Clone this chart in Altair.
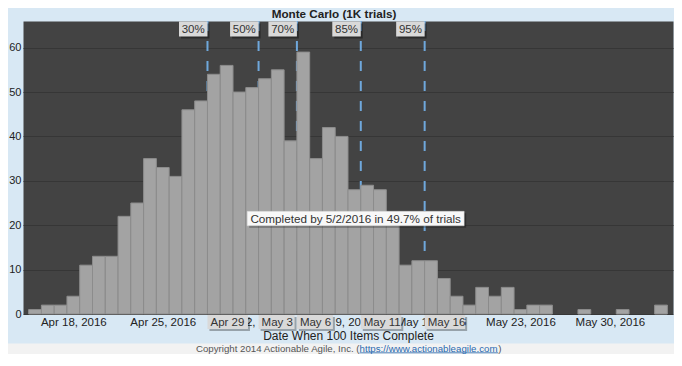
import altair as alt
import pandas as pd
from datetime import date

# ---------------- data ----------------
start_date = "2016-04-15"
counts = [1, 2, 2, 4, 11, 13, 13, 22, 25, 35, 33, 31, 46, 48, 54, 56, 50, 51, 53, 55,
          39, 59, 35, 42, 40, 28, 29, 28, 21, 11, 12, 12, 8, 4, 2, 6, 4, 6, 1, 2,
          2, 0, 0, 1, 0, 0, 1, 0, 0, 2]
pct_labels = ["30%", "50%", "70%", "85%", "95%"]
pct_dates = ["2016-04-29", "2016-05-03", "2016-05-06", "2016-05-11", "2016-05-16"]
pct_date_labels = ["Apr 29", "May 3", "May 6", "May 11", "May 16"]
tick_dates = ["2016-04-18", "2016-04-25", "2016-05-02", "2016-05-09",
              "2016-05-16", "2016-05-23", "2016-05-30"]
y_ticks = [0, 10, 20, 30, 40, 50, 60]
annotation_text = "Completed by 5/2/2016 in 49.7% of trials"
annotation_x = 25.6
annotation_y = 21.5
title_text = "Monte Carlo (1K trials)"
x_title = "Date When 100 Items Complete"
copyright_prefix = "Copyright 2014 Actionable Agile, Inc. ("
copyright_link = "https://www.actionableagile.com"
copyright_suffix = ")"

# ---------------- derived tables ----------------
d0 = date.fromisoformat(start_date)


def day(s):
    return (date.fromisoformat(s) - d0).days


bars = pd.DataFrame({"day": list(range(len(counts))), "count": counts})
lines = pd.DataFrame({"pos": [day(d) for d in pct_dates], "pct": pct_labels, "lab": pct_date_labels})
tick_vals = [day(d) + 0.5 for d in tick_dates]
ann = pd.DataFrame({"x": [annotation_x], "y": [annotation_y], "t": [annotation_text]})
one = pd.DataFrame({"k": [0]})

# ---------------- layout / style ----------------
PLOT_W, PLOT_H = 650, 293
PAD = {"left": 15, "top": 13, "right": 1, "bottom": 40}
X_DOMAIN = [-0.44, 50.44]
Y_DOMAIN = [0, 66]
PPU_X = PLOT_W / (X_DOMAIN[1] - X_DOMAIN[0])
FONT = "Liberation Sans"
BG = "#d8e8f4"

xscale = alt.Scale(domain=X_DOMAIN, nice=False, zero=False)
yscale = alt.Scale(domain=Y_DOMAIN, nice=False, zero=True)

label_expr = (f"timeFormat(datetime({d0.year}, {d0.month - 1}, {d0.day} + floor(datum.value)), "
              f"'%b %-d, %Y')")

xaxis = alt.Axis(values=tick_vals, labelExpr=label_expr, grid=False, ticks=False, domain=False,
                 labelFont=FONT, labelFontSize=11.5, labelColor="#222", labelPadding=2,
                 labelFlush=False, labelOverlap=False, title=x_title, titleFont=FONT,
                 titleFontSize=12, titleFontWeight="normal", titleColor="#222", titlePadding=3)
yaxis = alt.Axis(values=y_ticks, grid=True, gridColor="#363636", gridWidth=1, ticks=False,
                 domain=False, labelFont=FONT, labelFontSize=11, labelColor="#222",
                 labelPadding=2, title="")


def X(field):
    return alt.X(field, type="quantitative", scale=xscale, axis=xaxis)


def Y(field):
    return alt.Y(field, type="quantitative", scale=yscale, axis=yaxis)


# percentile dashed lines (behind bars)
rule_layer = alt.Chart(lines).mark_rule(color="#6fa8dc", strokeWidth=2, strokeDash=[10, 10]).encode(
    x=X("pos"), y=alt.value(0), y2=alt.value(PLOT_H))

# histogram bars
bar_layer = alt.Chart(bars).transform_filter("datum.count > 0").transform_calculate(
    day_end="datum.day + 1").mark_rect(fill="#a3a3a3", stroke="#8c8c8c", strokeWidth=1).encode(
    x=X("day"), x2="day_end:Q", y=Y("count"), y2=alt.datum(0))

# top percentile label boxes
top_shadow = alt.Chart(lines).mark_rect(color="black", opacity=0.35, xOffset=-26.5, x2Offset=2).encode(
    x=X("pos"), x2="pos:Q", y=alt.value(2.5), y2=alt.value(17.5))
top_box = alt.Chart(lines).mark_rect(color="#d9d9d9", xOffset=-28.5, x2Offset=0).encode(
    x=X("pos"), x2="pos:Q", y=alt.value(0.5), y2=alt.value(15.5))
top_text = alt.Chart(lines).mark_text(font=FONT, fontSize=11.5, color="#333", align="center",
                                      baseline="middle", xOffset=-14.25).encode(
    x=X("pos"), y=alt.value(8.5), text="pct:N")

# bottom date label boxes
box_end_expr = f"datum.pos + (4.5 * length(datum.lab) + 13.5) / {PPU_X}"
bot_shadow = alt.Chart(lines).transform_calculate(box_end=box_end_expr).mark_rect(
    color="black", opacity=0.3, xOffset=2, x2Offset=2).encode(
    x=X("pos"), x2="box_end:Q", y=alt.value(PLOT_H + 3), y2=alt.value(PLOT_H + 17))
bot_box = alt.Chart(lines).transform_calculate(box_end=box_end_expr).mark_rect(color="#d9d9d9").encode(
    x=X("pos"), x2="box_end:Q", y=alt.value(PLOT_H + 1), y2=alt.value(PLOT_H + 15))
bot_text = alt.Chart(lines).mark_text(font=FONT, fontSize=11.5, color="#333", align="left",
                                      baseline="middle", xOffset=3).encode(
    x=X("pos"), y=alt.value(PLOT_H + 8.5), text="lab:N")

# annotation
ann_shadow = alt.Chart(ann).mark_rect(color="black", opacity=0.3, xOffset=-106.5, x2Offset=110.5,
                                      yOffset=-5.2, y2Offset=9.2).encode(
    x=X("x"), x2="x:Q", y=Y("y"), y2="y:Q")
ann_box = alt.Chart(ann).mark_rect(color="#f8f8f8", stroke="#cfcfcf", strokeWidth=0.5,
                                   xOffset=-108.5, x2Offset=108.5, yOffset=-7.2, y2Offset=7.2).encode(
    x=X("x"), x2="x:Q", y=Y("y"), y2="y:Q")
ann_text = alt.Chart(ann).mark_text(font=FONT, fontSize=11.7, color="#333", align="center",
                                    baseline="middle").encode(
    x=X("x"), y=Y("y"), text="t:N")

# copyright strip
CR_FS = 9.7
prefix_w = 17.008 * CR_FS
link_w = 14.283 * CR_FS
suffix_w = 0.333 * CR_FS
cr_start = PLOT_W / 2 - (prefix_w + link_w + suffix_w) / 2
link_start = cr_start + prefix_w
link_end = link_start + link_w
CR_BASE = PLOT_H + 37.5

band = alt.Chart(one).mark_rect(color="#f2f2f2").encode(
    x=alt.value(-PAD["left"]), x2=alt.value(PLOT_W + PAD["right"]),
    y=alt.value(PLOT_H + 29.5), y2=alt.value(PLOT_H + PAD["bottom"]))
cr_prefix = alt.Chart(one).mark_text(font=FONT, fontSize=CR_FS, color="#555", align="right",
                                     baseline="alphabetic", text=copyright_prefix).encode(
    x=alt.value(link_start), y=alt.value(CR_BASE))
cr_link = alt.Chart(one).mark_text(font=FONT, fontSize=CR_FS, color="#2a6ab0", align="left",
                                   baseline="alphabetic", text=copyright_link).encode(
    x=alt.value(link_start), y=alt.value(CR_BASE))
cr_suffix = alt.Chart(one).mark_text(font=FONT, fontSize=CR_FS, color="#555", align="left",
                                     baseline="alphabetic", text=copyright_suffix).encode(
    x=alt.value(link_end), y=alt.value(CR_BASE))
cr_under = alt.Chart(one).mark_rule(color="#2a6ab0", strokeWidth=0.8).encode(
    x=alt.value(link_start), x2=alt.value(link_end), y=alt.value(CR_BASE + 1.3))

chart = alt.layer(
    rule_layer, bar_layer, top_shadow, top_box, top_text, bot_shadow, bot_box, bot_text,
    ann_shadow, ann_box, ann_text, band, cr_prefix, cr_link, cr_suffix, cr_under
).properties(
    width=PLOT_W, height=PLOT_H, padding=PAD,
    autosize=alt.AutoSizeParams(type="none"),
    background=BG,
    title=alt.TitleParams(title_text, font=FONT, fontSize=11.7, fontWeight="bold", color="#222",
                          anchor="middle", offset=3, baseline="alphabetic", dx=-14, dy=13),
).configure_view(fill="#434343", stroke="transparent")

chart.save("out.html", embed_options={"renderer": "svg", "actions": False})
